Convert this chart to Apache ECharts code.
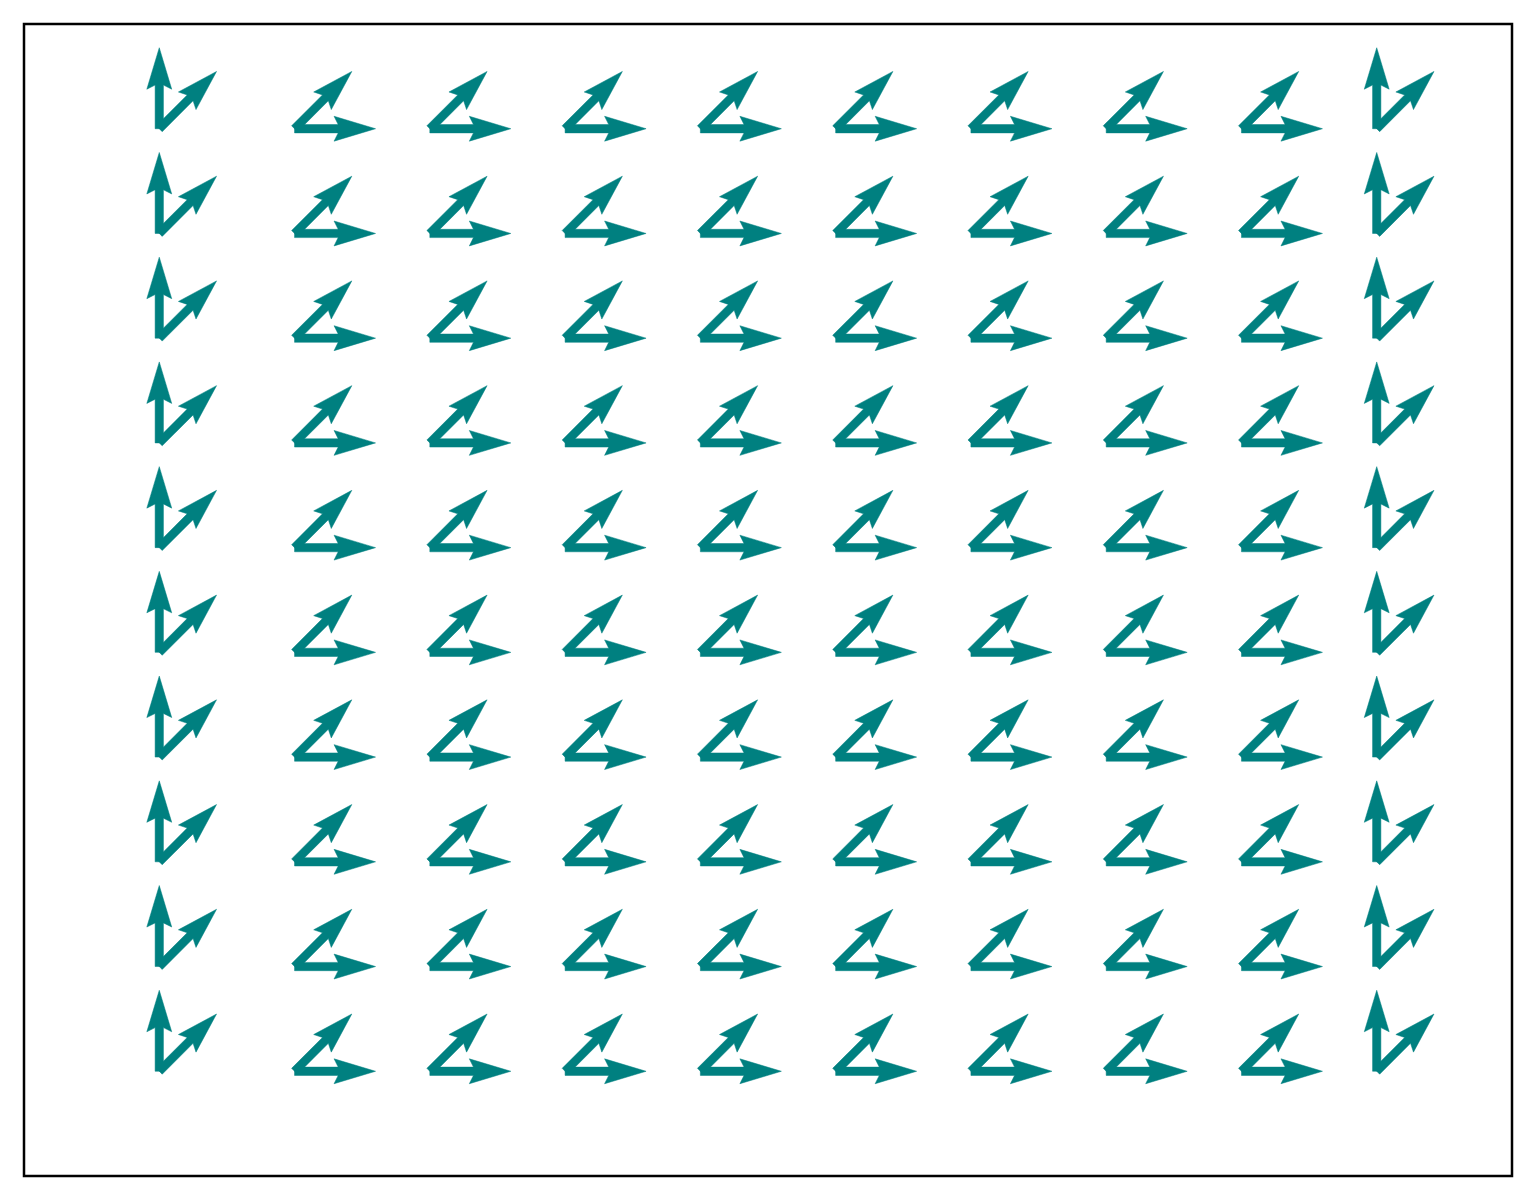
<!DOCTYPE html>
<html>
<head>
<meta charset="utf-8">
<script src="https://cdn.jsdelivr.net/npm/echarts@6/dist/echarts.min.js"></script>
<style>
  html, body { margin: 0; padding: 0; background: #ffffff; }
  #chart { width: 1536px; height: 1200px; }
</style>
</head>
<body>
<div id="chart"></div>
<script>
// Grid positions
const xPositions = [0, 1, 2, 3, 4, 5, 6, 7, 8, 9];
const yPositions = [0, 1, 2, 3, 4, 5, 6, 7, 8, 9];

// Field 1 components per column (same for each row)
const field1U = [0, 1, 1, 1, 1, 1, 1, 1, 1, 0];
const field1V = [1, 0, 0, 0, 0, 0, 0, 0, 0, 1];

// Field 2 components per column (same for each row)
const field2U = [0.707, 0.707, 0.707, 0.707, 0.707, 0.707, 0.707, 0.707, 0.707, 0.707];
const field2V = [0.707, 0.707, 0.707, 0.707, 0.707, 0.707, 0.707, 0.707, 0.707, 0.707];

// Arrow style (pixels)
const ARROW_COLOR = '#008080';
const ARROW_LEN = 81;
const SHAFT_W = 8.3;
const HEAD_W = SHAFT_W * 3;
const HEAD_LEN = SHAFT_W * 5;
const HEAD_AXIS = SHAFT_W * 4.5;

function buildField(U, V) {
  const out = [];
  yPositions.forEach(function (y) {
    xPositions.forEach(function (x, i) {
      out.push([x, y, U[i], V[i]]);
    });
  });
  return out;
}

function renderArrow(params, api) {
  const x = api.value(0), y = api.value(1), u = api.value(2), v = api.value(3);
  const p0 = api.coord([x, y]);
  const mag = Math.sqrt(u * u + v * v) || 1;
  const dx = u / mag, dy = -v / mag;   // pixel direction (y flipped)
  const nx = -dy, ny = dx;             // perpendicular
  const L = ARROW_LEN;
  function pt(a, b) { return [p0[0] + dx * a + nx * b, p0[1] + dy * a + ny * b]; }
  const pts = [
    pt(0, SHAFT_W / 2),
    pt(L - HEAD_AXIS, SHAFT_W / 2),
    pt(L - HEAD_LEN, HEAD_W / 2),
    pt(L, 0),
    pt(L - HEAD_LEN, -HEAD_W / 2),
    pt(L - HEAD_AXIS, -SHAFT_W / 2),
    pt(0, -SHAFT_W / 2)
  ];
  return {
    type: 'polygon',
    shape: { points: pts },
    style: { fill: ARROW_COLOR, stroke: ARROW_COLOR, lineWidth: 0.5 }
  };
}

const chart = echarts.init(document.getElementById('chart'), null, { renderer: 'canvas' });
const hiddenAxis = {
  type: 'value', min: -1, max: 10,
  axisLine: { show: false }, axisTick: { show: false },
  axisLabel: { show: false }, splitLine: { show: false }
};
chart.setOption({
  animation: false,
  backgroundColor: '#ffffff',
  grid: {
    left: 24, right: 24, top: 24, bottom: 24,
    show: true, borderColor: '#000000', borderWidth: 2.5, backgroundColor: 'transparent'
  },
  xAxis: Object.assign({}, hiddenAxis),
  yAxis: Object.assign({}, hiddenAxis),
  series: [
    { type: 'custom', renderItem: renderArrow, data: buildField(field1U, field1V), clip: false },
    { type: 'custom', renderItem: renderArrow, data: buildField(field2U, field2V), clip: false }
  ]
});
</script>
</body>
</html>
